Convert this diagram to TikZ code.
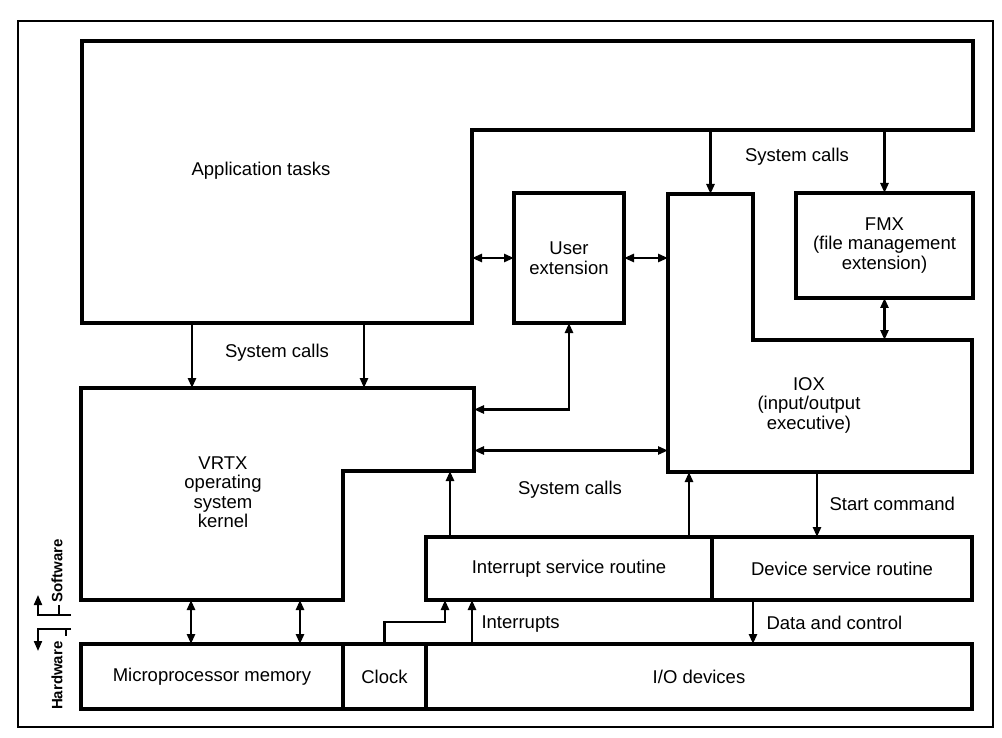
\documentclass[tikz,border=0pt]{standalone}
\usepackage{fontspec}
\setmainfont{Liberation Sans}
\usetikzlibrary{arrows.meta}

\begin{document}
\begin{tikzpicture}[
    x=1pt, y=-1pt,
    part/.style={inner sep=0pt, outer sep=0pt},
    box/.style={part, draw, line width=3.4pt, align=center,
                font=\fontsize{18.5}{19.5}\selectfont},
    outline/.style={line width=3.4pt},
    lbl/.style={align=center, font=\fontsize{18.5}{19.5}\selectfont},
    side/.style={font=\bfseries\fontsize{15}{17}\selectfont, rotate=90},
    arrow/.style={-{Triangle[length=10pt,width=8pt]}, line width=2.5pt},
    dblarrow/.style={{Triangle[length=10pt,width=8pt]}-{Triangle[length=10pt,width=8pt]},
                     line width=2.5pt}
  ]
    \useasboundingbox (0,0) rectangle (1002,738);
    \node[part, draw, line width=2.8pt, minimum width=975pt, minimum height=706pt]
      (frame) at (505.5,374) {};

    % Application tasks (L-shaped)
    \node[part, minimum width=390pt, minimum height=282pt] (app) at (277,182) {};
    \node[part, minimum width=501pt, minimum height=89pt] (appr) at (722.5,85.5) {};
    \draw[outline] (app.north west) -- (appr.north east) -- (appr.south east)
      -- (appr.south west) -- (app.south east) -- (app.south west) -- cycle;
    \node[lbl] (appname) at (261,171) {Application tasks};

    % Extensions
    \node[box, minimum width=110pt, minimum height=130pt] (uext) at (569,258)
      {User\\extension};
    \node[box, minimum width=177pt, minimum height=105pt] (fmx) at (884.5,245.5)
      {FMX\\(file management\\extension)};

    % IOX (L-shaped)
    \node[part, minimum width=85pt, minimum height=146pt] (ioxu) at (710.5,267) {};
    \node[part, minimum width=304pt, minimum height=132pt] (iox) at (820,406) {};
    \draw[outline] (ioxu.north west) -- (ioxu.north east) -- (ioxu.south east)
      -- (iox.north east) -- (iox.south east) -- (iox.south west) -- cycle;
    \node[lbl] (ioxname) at (809,405) {IOX\\(input/output\\executive)};

    % VRTX kernel (L-shaped)
    \node[part, minimum width=393pt, minimum height=83pt] (vrtx) at (277.5,429.5) {};
    \node[part, minimum width=262pt, minimum height=129pt] (vrtxl) at (212,535.5) {};
    \draw[outline] (vrtx.north west) -- (vrtx.north east) -- (vrtx.south east)
      -- (vrtxl.north east) -- (vrtxl.south east) -- (vrtxl.south west) -- cycle;
    \node[lbl] (vrtxname) at (223,492) {VRTX\\operating\\system\\kernel};

    % Service routines
    \node[box, minimum width=286pt, minimum height=63pt] (isr) at (569,568.5)
      {Interrupt service routine};
    \node[box, minimum width=260pt, minimum height=63pt] (dsr) at (842,568.5)
      {Device service routine};

    % Hardware layer
    \node[box, minimum width=262pt, minimum height=65pt] (micro) at (212,676.5)
      {Microprocessor memory};
    \node[box, minimum width=83pt, minimum height=65pt] (clock) at (384.5,676.5)
      {Clock};
    \node[box, minimum width=546pt, minimum height=65pt] (io) at (699,676.5)
      {I/O devices};

    % Arrows
    \draw[arrow] ([xshift=110pt]app.south west) -- ([xshift=110pt]app.south west |- vrtx.north);
    \draw[arrow] ([xshift=282pt]app.south west) -- ([xshift=282pt]app.south west |- vrtx.north);
    \node[lbl] (sc1) at (277,353) {System calls};
    \draw[dblarrow] (uext.west) -- (uext.west -| app.east);
    \draw[dblarrow] (uext.east) -- (uext.east -| ioxu.west);
    \draw[arrow] (ioxu.north |- appr.south) -- (ioxu.north);
    \draw[arrow] (fmx.north |- appr.south) -- (fmx.north);
    \node[lbl] (sc2) at (797,157) {System calls};
    \draw[dblarrow] (fmx.south) -- (fmx.south |- iox.north);
    \draw[dblarrow] (uext.south) |- ([yshift=20pt]vrtx.east);
    \draw[dblarrow] ([yshift=-21pt]vrtx.east) -- ([yshift=-21pt]vrtx.east -| iox.west);
    \draw[arrow] ([xshift=24pt]isr.north west) -- ([xshift=24pt]isr.north west |- vrtx.south);
    \draw[arrow] ([xshift=-23pt]isr.north east) -- ([xshift=-23pt]isr.north east |- iox.south);
    \node[lbl] (sc3) at (570,490) {System calls};
    \draw[arrow] ([xshift=-25pt]dsr.north |- iox.south) -- ([xshift=-25pt]dsr.north);
    \node[lbl, anchor=west] (startcmd) at (826,504) {Start command};
    \draw[dblarrow] ([xshift=110pt]vrtxl.south west) -- ([xshift=110pt]vrtxl.south west |- micro.north);
    \draw[dblarrow] ([xshift=219pt]vrtxl.south west) -- ([xshift=219pt]vrtxl.south west |- micro.north);
    \draw[arrow] (clock.north) -- ++(0,-22) -| ([xshift=19pt]isr.south west);
    \draw[arrow] ([xshift=46pt]isr.south west |- io.north) -- ([xshift=46pt]isr.south west);
    \node[lbl, anchor=west] (intr) at (478,624) {Interrupts};
    \draw[arrow] ([xshift=41pt]dsr.south west) -- ([xshift=41pt]dsr.south west |- io.north);
    \node[lbl, anchor=west] (datactl) at (763,623) {Data and control};

    % Software / Hardware boundary
    \node[side, anchor=west] (swlbl) at (57,606) {Software};
    \node[side, anchor=east] (hwlbl) at (57,638) {Hardware};
    \coordinate (sw) at (71,615);
    \coordinate (hw) at (71,629);
    \draw[arrow, line width=2pt] (sw) -- ++(-33,0) -- ++(0,-20);
    \draw[line width=2pt] (sw) ++(-12,0) -- ++(0,-10);
    \draw[arrow, line width=2pt] (hw) -- ++(-33,0) -- ++(0,22);
    \draw[line width=2pt] (hw) ++(-5,0) -- ++(0,7);
  \end{tikzpicture}
\end{document}
